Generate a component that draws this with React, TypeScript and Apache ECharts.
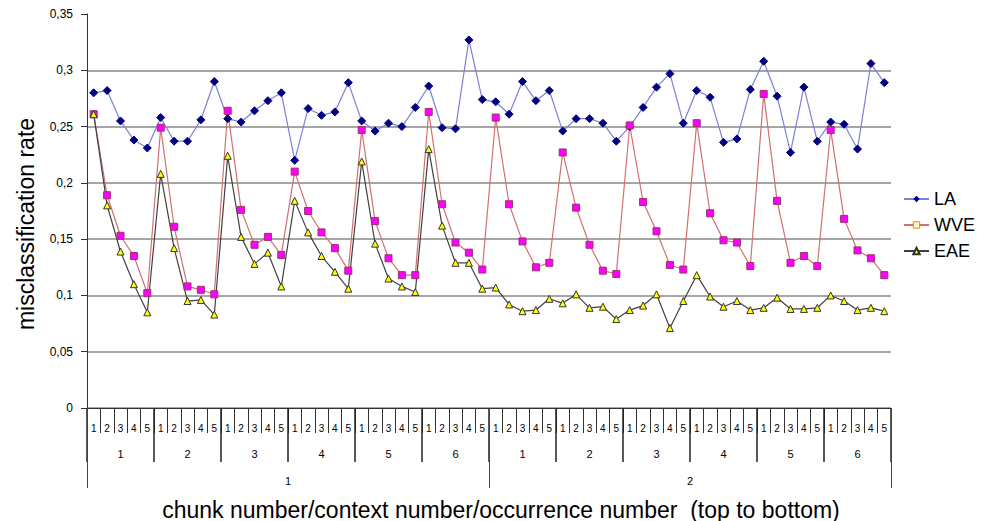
import React, { useEffect, useRef } from "react";
import * as echarts from "echarts";

const chunks = ["1", "2"];
const contexts = ["1", "2", "3", "4", "5", "6"];
const occurrences = ["1", "2", "3", "4", "5"];

const yTicks = [0, 0.05, 0.1, 0.15, 0.2, 0.25, 0.3, 0.35];

const LA = [
  0.28, 0.282, 0.255, 0.238, 0.231,
  0.258, 0.237, 0.237, 0.256, 0.29,
  0.257, 0.254, 0.264, 0.273, 0.28,
  0.22, 0.266, 0.26, 0.263, 0.289,
  0.255, 0.246, 0.253, 0.25, 0.267,
  0.286, 0.249, 0.248, 0.327, 0.274,
  0.272, 0.261, 0.29, 0.273, 0.282,
  0.246, 0.257, 0.257, 0.253, 0.237,
  0.25, 0.267, 0.285, 0.297, 0.253,
  0.282, 0.276, 0.236, 0.239, 0.283,
  0.308, 0.277, 0.227, 0.285, 0.237,
  0.254, 0.252, 0.23, 0.306, 0.289,
];

const WVE = [
  0.261, 0.189, 0.153, 0.135, 0.102,
  0.249, 0.161, 0.108, 0.105, 0.101,
  0.264, 0.176, 0.145, 0.152, 0.136,
  0.21, 0.175, 0.156, 0.142, 0.122,
  0.247, 0.166, 0.133, 0.118, 0.118,
  0.263, 0.181, 0.147, 0.138, 0.123,
  0.258, 0.181, 0.148, 0.125, 0.129,
  0.227, 0.178, 0.145, 0.122, 0.119,
  0.251, 0.183, 0.157, 0.127, 0.123,
  0.253, 0.173, 0.149, 0.147, 0.126,
  0.279, 0.184, 0.129, 0.135, 0.126,
  0.247, 0.168, 0.14, 0.133, 0.118,
];

const EAE = [
  0.261, 0.18, 0.139, 0.11, 0.085,
  0.208, 0.142, 0.095, 0.096, 0.083,
  0.224, 0.152, 0.128, 0.138, 0.108,
  0.184, 0.156, 0.135, 0.121, 0.106,
  0.219, 0.146, 0.115, 0.108, 0.103,
  0.23, 0.162, 0.129, 0.129, 0.106,
  0.107, 0.092, 0.086, 0.087, 0.097,
  0.093, 0.101, 0.089, 0.09, 0.079,
  0.087, 0.091, 0.101, 0.071, 0.095,
  0.118, 0.099, 0.09, 0.095, 0.087,
  0.089, 0.098, 0.088, 0.088, 0.089,
  0.1, 0.095, 0.087, 0.089, 0.086,
];

const FONT = "'Liberation Sans', Arial, sans-serif";

export default function App() {
  const ref = useRef<HTMLDivElement>(null);

  useEffect(() => {
    if (!ref.current) return;
    const chart = echarts.init(ref.current, undefined, { renderer: "svg" });

    const occLabels: string[] = [];
    const ctxLabels: string[] = [];
    chunks.forEach(() => {
      contexts.forEach((c) => {
        ctxLabels.push(c);
        occurrences.forEach((o) => occLabels.push(o));
      });
    });
    const occCats = occLabels.map((o, i) => "o" + i);
    const ctxCats = ctxLabels.map((c, i) => "c" + i);
    const chunkCats = chunks.map((c, i) => "k" + i);

    const tickStyle = { color: "#333", width: 1 };

    chart.setOption({
      animation: false,
      textStyle: { fontFamily: FONT },
      grid: { left: 87, right: 95, top: 14, bottom: 113, containLabel: false, outerBoundsMode: "none" },
      legend: {
        orient: "vertical",
        left: 898,
        top: 185,
        itemWidth: 25,
        itemHeight: 8,
        itemGap: 8,
        textStyle: { fontSize: 18, color: "#000", fontFamily: FONT, lineHeight: 18 },
        data: [
          { name: "LA" },
          { name: "WVE", itemStyle: { color: "#ffffc0", borderColor: "#e08040", borderWidth: 1 } },
          { name: "EAE" },
        ],
      },
      xAxis: [
        {
          type: "category",
          position: "bottom",
          data: occCats,
          boundaryGap: true,
          axisLine: { show: true, lineStyle: { color: "#333", width: 1 } },
          axisTick: { show: true, interval: 0, length: 25, lineStyle: tickStyle },
          axisLabel: {
            interval: 0,
            margin: 15,
            fontSize: 10,
            color: "#000",
            formatter: (v: string) => occLabels[Number(v.slice(1))],
          },
          splitLine: { show: false },
        },
        {
          type: "category",
          position: "bottom",
          data: ctxCats,
          boundaryGap: true,
          axisLine: { show: false },
          axisTick: { show: true, interval: 0, length: 54, lineStyle: { color: "#222", width: 1.5 } },
          axisLabel: {
            interval: 0,
            margin: 40,
            fontSize: 11,
            color: "#000",
            formatter: (v: string) => ctxLabels[Number(v.slice(1))],
          },
          splitLine: { show: false },
        },
        {
          type: "category",
          position: "bottom",
          data: chunkCats,
          boundaryGap: true,
          axisLine: { show: false },
          axisTick: { show: true, interval: 0, length: 80, lineStyle: { color: "#444", width: 1 } },
          axisLabel: {
            interval: 0,
            margin: 67,
            fontSize: 11,
            color: "#000",
            formatter: (v: string) => chunks[Number(v.slice(1))],
          },
          name: "chunk number/context number/occurrence number  (top to bottom)",
          nameLocation: "middle",
          nameGap: 90,
          nameTextStyle: { fontSize: 23, color: "#000", fontFamily: FONT, padding: [0, 0, 0, 24] },
          splitLine: { show: false },
        },
      ],
      yAxis: {
        type: "value",
        min: yTicks[0],
        max: yTicks[yTicks.length - 1],
        interval: 0.05,
        axisLine: { show: true, lineStyle: { color: "#333", width: 1 } },
        axisTick: { show: true, length: 6, lineStyle: { color: "#333" } },
        axisLabel: {
          margin: 14,
          fontSize: 12,
          color: "#000",
          formatter: (v: number) => {
            const t = yTicks.find((y) => Math.abs(y - v) < 1e-9);
            return String(t !== undefined ? t : v).replace(".", ",");
          },
        },
        splitLine: { show: true, showMaxLine: false, lineStyle: { color: "#888", width: 1.5 } },
        name: "misclassification rate",
        nameLocation: "middle",
        nameRotate: 90,
        nameGap: 50,
        nameTextStyle: { fontSize: 23, color: "#000", fontFamily: FONT, padding: [0, 26, 0, 0] },
      },
      series: [
        {
          name: "LA",
          type: "line",
          xAxisIndex: 0,
          data: LA,
          symbol: "diamond",
          symbolSize: 8,
          lineStyle: { color: "#7f7fd8", width: 1.2 },
          itemStyle: { color: "#000080", borderColor: "#000080" },
        },
        {
          name: "WVE",
          type: "line",
          xAxisIndex: 0,
          data: WVE,
          symbol: "rect",
          symbolSize: 7,
          lineStyle: { color: "#d07070", width: 1.2 },
          itemStyle: { color: "#ff00ff", borderColor: "#993366", borderWidth: 1 },
        },
        {
          name: "EAE",
          type: "line",
          xAxisIndex: 0,
          data: EAE,
          symbol: "triangle",
          symbolSize: 7,
          lineStyle: { color: "#404040", width: 1.2 },
          itemStyle: { color: "#ffff00", borderColor: "#333", borderWidth: 1 },
        },
      ],
    });

    return () => chart.dispose();
  }, []);

  return (
    <div
      ref={ref}
      style={{ position: "fixed", left: 0, top: 0, width: 986, height: 521, background: "#fff" }}
    />
  );
}
